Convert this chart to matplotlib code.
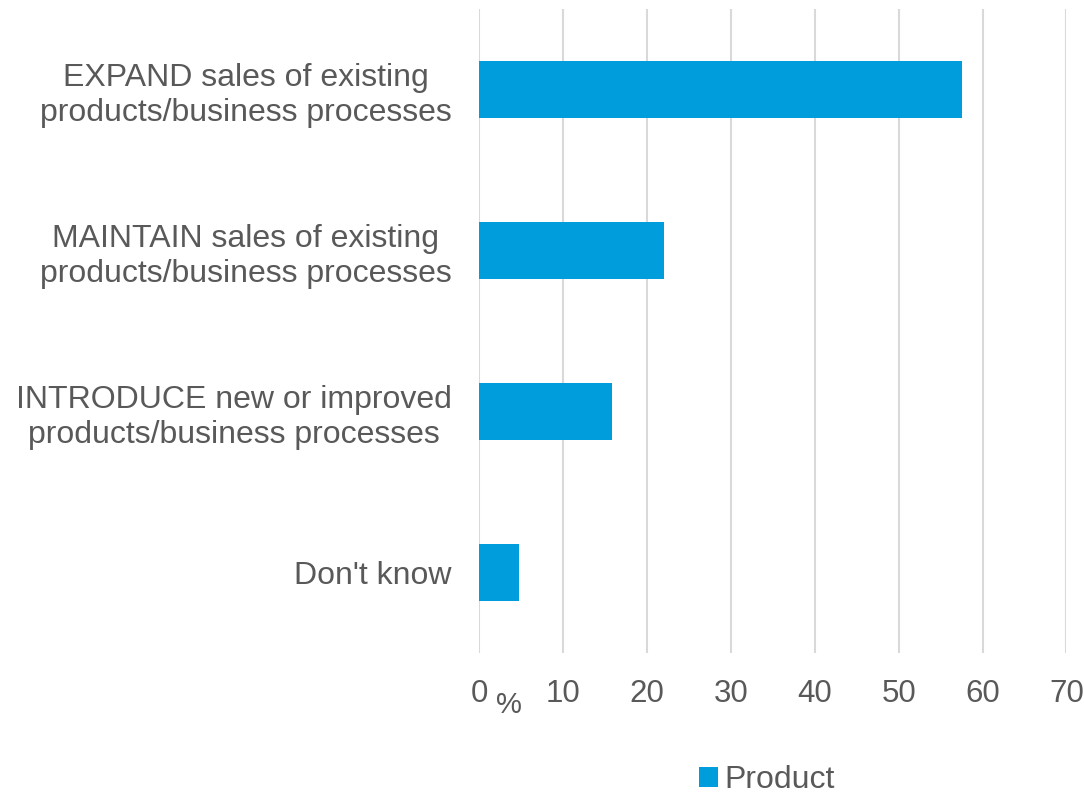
import matplotlib.pyplot as plt

plt.rcParams["font.family"] = ["Liberation Sans", "DejaVu Sans"]

categories = [
    "EXPAND sales of existing\nproducts/business processes",
    "MAINTAIN sales of existing\nproducts/business processes",
    "INTRODUCE new or improved\nproducts/business processes",
    "Don't know",
]
values = [57.5, 22.0, 15.8, 4.7]
xticks = [0, 10, 20, 30, 40, 50, 60, 70]
series_name = "Product"

text_color = "#595959"
bar_color = "#009DDC"
grid_color = "#D9D9D9"

fig = plt.figure(figsize=(10.84, 7.93), dpi=100)
ax = fig.add_axes([0.4423, 0.1765, 0.5415, 0.8121])

pos = range(len(categories))
ax.barh(pos, values, height=0.35, color=bar_color, label=series_name, zorder=3)

ax.set_ylim(len(categories) - 0.5, -0.5)
ax.set_xlim(0, 70)
ax.set_xticks(xticks)
ax.set_xticklabels([str(t) for t in xticks])
ax.set_yticks(list(pos))
ax.set_yticklabels(categories, multialignment="center")

ax.tick_params(axis="x", length=0, pad=19, labelsize=22.5, labelcolor=text_color)
ax.tick_params(axis="y", length=0, pad=20, labelsize=23, labelcolor=text_color)

ax.grid(axis="x", color=grid_color, linewidth=1.5, zorder=0)
for side in ax.spines.values():
    side.set_visible(False)

# unit label next to the zero tick
fig.text(509 / 1084, 1 - 705 / 793, "%", fontsize=21, color=text_color,
         ha="center", va="center")

leg = fig.legend(loc="center left", bbox_to_anchor=(683 / 1084, 1 - 780 / 793),
                 frameon=False, fontsize=23, handlelength=0.6, handleheight=0.6,
                 handletextpad=0.2, borderpad=0)
for t in leg.get_texts():
    t.set_color(text_color)

fig.savefig("out.png", dpi=100)
